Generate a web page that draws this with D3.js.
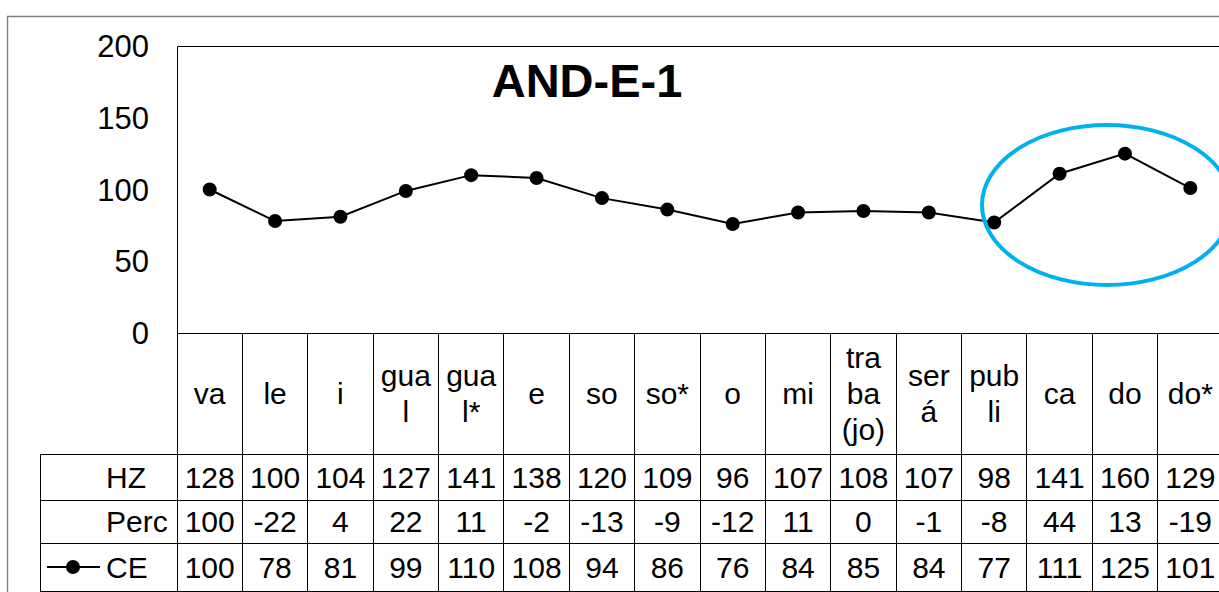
<!DOCTYPE html>
<html>
<head>
<meta charset="utf-8">
<script src="https://cdn.jsdelivr.net/npm/d3@7"></script>
<style>
  body { margin: 0; background: #fff; }
  svg { display: block; font-family: "Liberation Sans", Arial, sans-serif; }
</style>
</head>
<body>
<svg width="1219" height="592"></svg>
<script>
// chart data
var categories = [["va"], ["le"], ["i"], ["gua", "l"], ["gua", "l*"], ["e"], ["so"], ["so*"],
  ["o"], ["mi"], ["tra", "ba", "(jo)"], ["ser", "á"], ["pub", "li"], ["ca"], ["do"], ["do*"]];
var hzValues = [128, 100, 104, 127, 141, 138, 120, 109, 96, 107, 108, 107, 98, 141, 160, 129];
var percValues = [100, -22, 4, 22, 11, -2, -13, -9, -12, 11, 0, -1, -8, 44, 13, -19];
var ceValues = [100, 78, 81, 99, 110, 108, 94, 86, 76, 84, 85, 84, 77, 111, 125, 101];
var yTicks = [0, 50, 100, 150, 200];
var rowNames = ["HZ", "Perc", "CE"];
var title = "AND-E-1";

var svg = d3.select("svg");

var plotLeft = 177, plotRight = 1223, plotTop = 46, plotBottom = 333;
var catBottom = 454;
var rowTops = [454, 500, 543, 591];
var tableLeft = 40;
var fs = 30;

var x = d3.scaleBand()
  .domain(d3.range(categories.length))
  .range([plotLeft, plotRight]);

var y = d3.scaleLinear()
  .domain([0, 200])
  .range([plotBottom, plotTop]);

// outer chart border (cut off by the frame on right/bottom)
svg.append("path")
  .attr("d", "M7.5,600 V16.5 H1230")
  .attr("fill", "none")
  .attr("stroke", "#808080")
  .attr("stroke-width", 1.5);

// plot area border
svg.append("path")
  .attr("d", "M" + (plotLeft + 0.5) + "," + plotBottom + " V" + (plotTop + 0.5) + " H" + plotRight)
  .attr("fill", "none")
  .attr("stroke", "#000")
  .attr("stroke-width", 1);

// y tick labels
svg.selectAll(".ytick")
  .data(yTicks).enter()
  .append("text")
  .attr("class", "ytick")
  .attr("x", 149)
  .attr("y", function(d) { return y(d); })
  .attr("dy", "0.36em")
  .attr("text-anchor", "end")
  .attr("font-size", 31)
  .text(function(d) { return d; });

// title
svg.append("text")
  .attr("x", 587)
  .attr("y", 97)
  .attr("text-anchor", "middle")
  .attr("font-size", 47)
  .attr("font-weight", "bold")
  .text(title);

// table grid
var grid = svg.append("g")
  .attr("stroke", "#000")
  .attr("stroke-width", 1)
  .attr("shape-rendering", "crispEdges");

grid.append("line")
  .attr("x1", plotLeft).attr("x2", plotRight)
  .attr("y1", plotBottom).attr("y2", plotBottom);

rowTops.forEach(function(t) {
  grid.append("line")
    .attr("x1", tableLeft).attr("x2", plotRight)
    .attr("y1", t).attr("y2", t);
});

grid.append("line")
  .attr("x1", tableLeft).attr("x2", tableLeft)
  .attr("y1", rowTops[0]).attr("y2", rowTops[3]);

d3.range(categories.length + 1).forEach(function(i) {
  var xx = i < categories.length ? x(i) : plotRight;
  grid.append("line")
    .attr("x1", xx).attr("x2", xx)
    .attr("y1", plotBottom).attr("y2", rowTops[3]);
});

// category labels
var catCenter = (plotBottom + catBottom) / 2;
var lineH = 36;
var cats = svg.selectAll(".cat")
  .data(categories).enter()
  .append("text")
  .attr("class", "cat")
  .attr("text-anchor", "middle")
  .attr("font-size", fs);

cats.each(function(lines, i) {
  var t = d3.select(this);
  lines.forEach(function(s, j) {
    t.append("tspan")
      .attr("x", x(i) + x.bandwidth() / 2)
      .attr("y", catCenter + (j - (lines.length - 1) / 2) * lineH + 10)
      .text(s);
  });
});

// table rows
var rows = [hzValues, percValues, ceValues];
rows.forEach(function(vals, r) {
  var cy = (rowTops[r] + rowTops[r + 1]) / 2;
  svg.append("text")
    .attr("x", 106)
    .attr("y", cy)
    .attr("dy", "0.36em")
    .attr("font-size", fs)
    .text(rowNames[r]);

  svg.selectAll(".val" + r)
    .data(vals).enter()
    .append("text")
    .attr("class", "val" + r)
    .attr("x", function(d, i) { return x(i) + x.bandwidth() / 2; })
    .attr("y", cy)
    .attr("dy", "0.36em")
    .attr("text-anchor", "middle")
    .attr("font-size", fs)
    .text(function(d) { return d; });
});

// legend key in CE row
var legY = (rowTops[2] + rowTops[3]) / 2;
svg.append("line")
  .attr("x1", 47).attr("x2", 100)
  .attr("y1", legY).attr("y2", legY)
  .attr("stroke", "#000").attr("stroke-width", 2);
svg.append("circle")
  .attr("cx", 73).attr("cy", legY).attr("r", 7)
  .attr("fill", "#000");

// CE line
var line = d3.line()
  .x(function(d, i) { return x(i) + x.bandwidth() / 2; })
  .y(function(d) { return y(d); });

svg.append("path")
  .datum(ceValues)
  .attr("d", line)
  .attr("fill", "none")
  .attr("stroke", "#000")
  .attr("stroke-width", 2);

svg.selectAll(".pt")
  .data(ceValues).enter()
  .append("circle")
  .attr("class", "pt")
  .attr("cx", function(d, i) { return x(i) + x.bandwidth() / 2; })
  .attr("cy", function(d) { return y(d); })
  .attr("r", 7)
  .attr("fill", "#000");

// highlight ellipse
svg.append("ellipse")
  .attr("cx", 1107).attr("cy", 205)
  .attr("rx", 125).attr("ry", 80)
  .attr("fill", "none")
  .attr("stroke", "#00B0F0")
  .attr("stroke-width", 4);
</script>
</body>
</html>
